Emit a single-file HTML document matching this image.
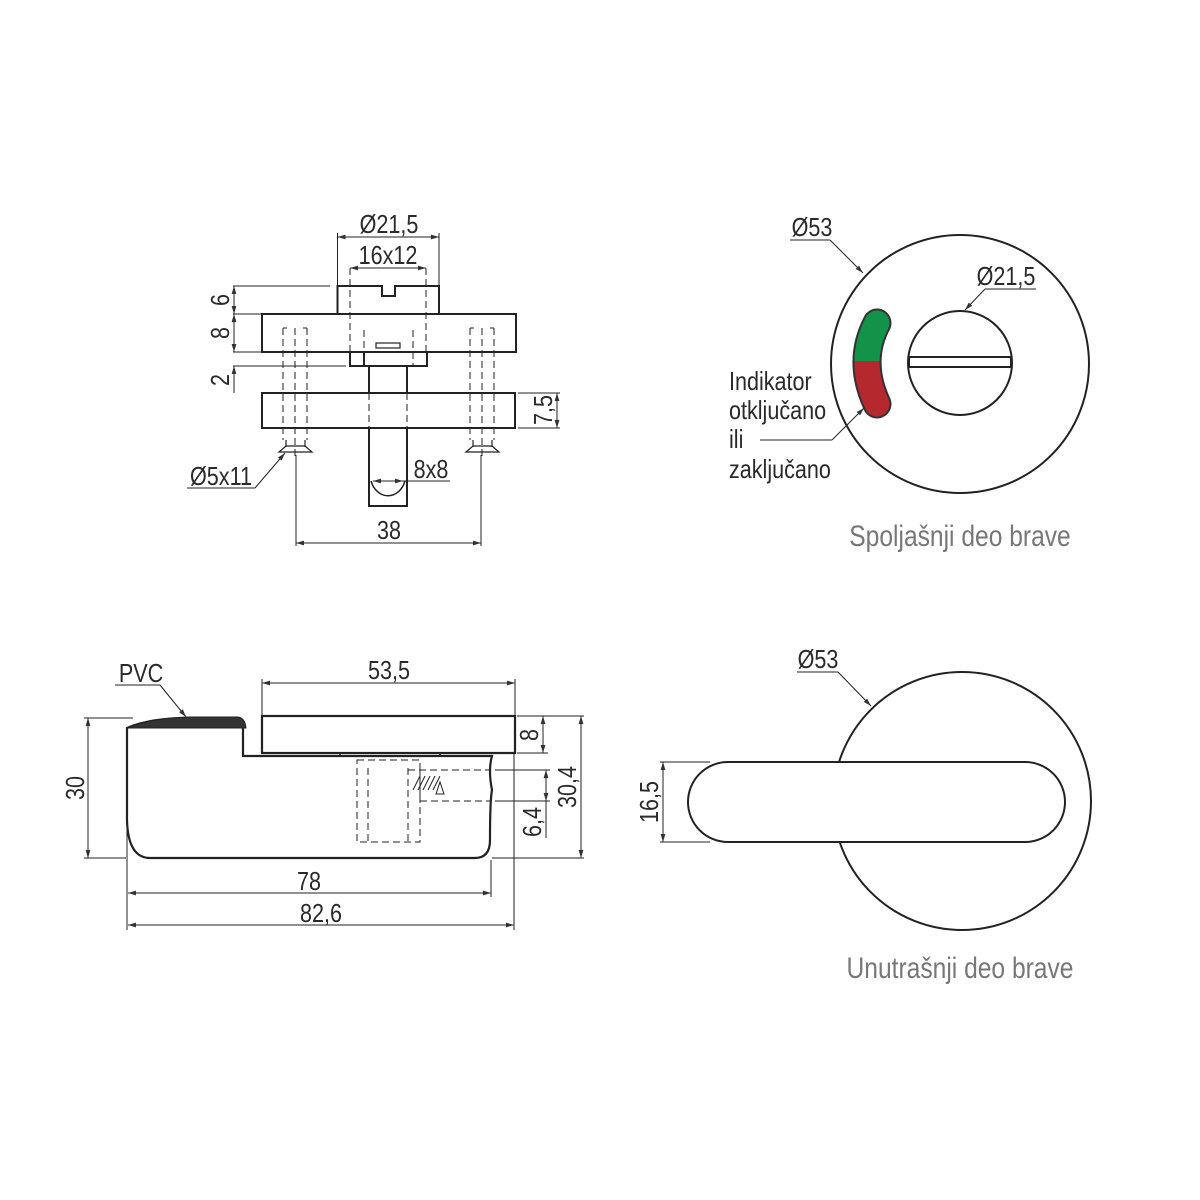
<!DOCTYPE html>
<html><head><meta charset="utf-8"><style>
html,body{margin:0;padding:0;background:#fff}
svg{display:block}
text{font-family:"Liberation Sans",sans-serif;fill:#2a2a2a}
</style></head><body>
<svg width="1200" height="1200" viewBox="0 0 1200 1200" xmlns="http://www.w3.org/2000/svg">
<defs>
<marker id="a" viewBox="0 0 10 10" refX="10" refY="5" markerWidth="10" markerHeight="8" orient="auto-start-reverse" markerUnits="userSpaceOnUse"><path d="M0,2 L10,5 L0,8z" fill="#333"/></marker>
<clipPath id="ct"><rect x="800" y="280" width="120" height="81"/></clipPath>
<clipPath id="cb"><rect x="800" y="361" width="120" height="80"/></clipPath>
</defs>
<g stroke="#222" fill="none">
<!-- TOP LEFT -->
<g stroke-width="2">
<path d="M337.5,314 V286 H382 V296 H395 V286 H439 V314"/>
<rect x="262" y="314" width="254" height="38"/>
<rect x="350" y="352" width="77" height="14"/>
<line x1="364" y1="352" x2="364" y2="366"/>
<rect x="376" y="343" width="24" height="5" stroke-width="1.2"/>
<path d="M369,366 V393 M407,366 V393"/>
<rect x="262" y="393" width="253" height="35"/>
<path d="M369,428 V506 H407 V428"/>
<path d="M371,481 A18,22 0 0 0 405,481" stroke-width="1.5"/>
</g>
<g stroke-width="1" stroke-dasharray="7,4">
<path d="M350,268 V352 M426,268 V352 M364,330 V366 M413,330 V366 M369,393 V428 M407,393 V428"/>
<path d="M283,328 V440 M295,328 V460 M307,328 V440 M470,328 V440 M482,328 V460 M494,328 V440"/>
<path d="M283,328 H287 M303,328 H307 M470,328 H474 M490,328 H494"/>
</g>
<g stroke-width="1.2">
<path d="M286,440 V447 M305,440 V447 M473,440 V447 M492,440 V447"/>
<path d="M279,452 L286,446 H305 L312,452 Z M466,452 L473,446 H492 L499,452 Z"/>
</g>
<g stroke-width="1">
<line x1="337.5" y1="237" x2="439" y2="237" marker-start="url(#a)" marker-end="url(#a)"/>
<path d="M337.5,233 V286 M439,233 V286"/>
<line x1="350" y1="268" x2="426" y2="268" marker-start="url(#a)" marker-end="url(#a)"/>
<path d="M233,286 H330 M233,314 H262 M233,352 H262 M233,366 H346"/>
<line x1="234" y1="286" x2="234" y2="314" marker-start="url(#a)" marker-end="url(#a)"/>
<line x1="234" y1="314" x2="234" y2="352" marker-start="url(#a)" marker-end="url(#a)"/>
<line x1="234" y1="393" x2="234" y2="366" marker-end="url(#a)"/>
<path d="M518,393 H560 M518,428 H560"/>
<line x1="557" y1="393" x2="557" y2="428" marker-start="url(#a)" marker-end="url(#a)"/>
<line x1="296" y1="543" x2="481" y2="543" marker-start="url(#a)" marker-end="url(#a)"/>
<path d="M296,455 V546 M481,455 V546"/>
<line x1="373" y1="481" x2="403" y2="481" marker-start="url(#a)" marker-end="url(#a)"/>
<path d="M403,481 H450"/>
<path d="M187,488 H255" /><line x1="255" y1="488" x2="285" y2="453" marker-end="url(#a)"/>
</g>
<!-- TOP RIGHT -->
<circle cx="960" cy="364" r="129" stroke-width="2"/>
<circle cx="960" cy="363" r="52" stroke-width="2"/>
<rect x="909" y="357" width="102" height="10" stroke-width="2" fill="#fff"/>
<path d="M877,323 Q857,361 877,404" stroke="#333" stroke-width="29" stroke-linecap="round"/>
<path clip-path="url(#ct)" d="M877,323 Q857,361 877,404" stroke="#13924a" stroke-width="25" stroke-linecap="round"/>
<path clip-path="url(#cb)" d="M877,323 Q857,361 877,404" stroke="#b4282e" stroke-width="25" stroke-linecap="round"/>
<g stroke-width="1">
<path d="M790,240 H830"/><line x1="830" y1="240" x2="863" y2="273" marker-end="url(#a)"/>
<path d="M1036,289 H985"/><line x1="985" y1="289" x2="965" y2="310" marker-end="url(#a)"/>
<path d="M760,440 H832"/><line x1="832" y1="440" x2="864" y2="408" marker-end="url(#a)"/>
</g>
<!-- BOTTOM LEFT -->
<path d="M243,728 Q243,718 233,718 H190 Q150,718 127,728 V820 Q128,858 150,858 H475 Q490,858 490,840 Q490,800 492,790 Q488,770 492,756 H243 Z" stroke-width="2.2"/>
<path d="M127,728 Q150,718 190,717 H238 Q245,718 246,728 H127 Z" fill="#333" stroke-width="1"/>
<rect x="262" y="716" width="253" height="37" stroke-width="2.2"/>
<path d="M340,753 V756 H440 V753" stroke-width="1.5"/>
<g stroke-width="1" stroke-dasharray="7,4">
<rect x="357" y="760" width="63" height="82"/>
<path d="M368,768 V842 M408,768 V842 M408,770 H490 M420,801 H490 M420,770 V801"/>
</g>
<path d="M413,790 L420,776 M418,790 L425,776 M423,790 L430,776 M428,790 L435,776 M433,790 L440,776 M436,794 L444,794 L440,782 Z" stroke-width="1"/>
<g stroke-width="1">
<line x1="262" y1="683" x2="515" y2="683" marker-start="url(#a)" marker-end="url(#a)"/>
<path d="M262,679 V716 M515,679 V716"/>
<path d="M84,718 H133 M84,858 H126"/>
<line x1="88" y1="718" x2="88" y2="858" marker-start="url(#a)" marker-end="url(#a)"/>
<path d="M517,716 H584 M517,753 H548 M495,770 H550 M495,801 H550 M492,858 H584"/>
<line x1="543" y1="716" x2="543" y2="753" marker-start="url(#a)" marker-end="url(#a)"/>
<line x1="581" y1="716" x2="581" y2="858" marker-start="url(#a)" marker-end="url(#a)"/>
<line x1="546" y1="770" x2="546" y2="801" marker-start="url(#a)" marker-end="url(#a)"/>
<path d="M546,801 V838"/>
<path d="M127,790 V930 M491,860 V897 M514,753 V930"/>
<line x1="128" y1="893" x2="491" y2="893" marker-start="url(#a)" marker-end="url(#a)"/>
<line x1="128" y1="925" x2="514" y2="925" marker-start="url(#a)" marker-end="url(#a)"/>
<path d="M115,685 H160"/><line x1="160" y1="685" x2="186" y2="717" marker-end="url(#a)"/>
</g>
<!-- BOTTOM RIGHT -->
<circle cx="962" cy="801" r="129" stroke-width="2"/>
<rect x="688" y="762" width="377" height="80" rx="40" fill="#fff" stroke-width="2"/>
<g stroke-width="1">
<path d="M797,672 H838"/><line x1="838" y1="672" x2="871" y2="706" marker-end="url(#a)"/>
<path d="M660,762 H710 M660,842 H710"/>
<line x1="663" y1="762" x2="663" y2="842" marker-start="url(#a)" marker-end="url(#a)"/>
</g>
</g>
<g font-size="26">
<text transform="translate(389,233) scale(.83,1)" text-anchor="middle">Ø21,5</text>
<text transform="translate(388,264) scale(.83,1)" text-anchor="middle">16x12</text>
<text transform="translate(229,300) rotate(-90) scale(.83,1)" text-anchor="middle">6</text>
<text transform="translate(229,333) rotate(-90) scale(.83,1)" text-anchor="middle">8</text>
<text transform="translate(229,380) rotate(-90) scale(.83,1)" text-anchor="middle">2</text>
<text transform="translate(552,410) rotate(-90) scale(.83,1)" text-anchor="middle">7,5</text>
<text transform="translate(431,478) scale(.83,1)" text-anchor="middle">8x8</text>
<text transform="translate(221,485) scale(.83,1)" text-anchor="middle">Ø5x11</text>
<text transform="translate(389,539) scale(.83,1)" text-anchor="middle">38</text>
<text transform="translate(812,236) scale(.83,1)" text-anchor="middle">Ø53</text>
<text transform="translate(1006,285) scale(.83,1)" text-anchor="middle">Ø21,5</text>
<text transform="translate(729,390) scale(.83,1)">Indikator</text>
<text transform="translate(729,419) scale(.83,1)">otključano</text>
<text transform="translate(729,448) scale(.83,1)">ili</text>
<text transform="translate(729,478) scale(.83,1)">zaključano</text>
<text transform="translate(141,682) scale(.83,1)" text-anchor="middle">PVC</text>
<text transform="translate(389,679) scale(.83,1)" text-anchor="middle">53,5</text>
<text transform="translate(84,788) rotate(-90) scale(.83,1)" text-anchor="middle">30</text>
<text transform="translate(538,735) rotate(-90) scale(.83,1)" text-anchor="middle">8</text>
<text transform="translate(576,787) rotate(-90) scale(.83,1)" text-anchor="middle">30,4</text>
<text transform="translate(541,822) rotate(-90) scale(.83,1)" text-anchor="middle">6,4</text>
<text transform="translate(309,890) scale(.83,1)" text-anchor="middle">78</text>
<text transform="translate(321,922) scale(.83,1)" text-anchor="middle">82,6</text>
<text transform="translate(818,668) scale(.83,1)" text-anchor="middle">Ø53</text>
<text transform="translate(658,802) rotate(-90) scale(.83,1)" text-anchor="middle">16,5</text>
</g>
<g font-size="30">
<text transform="translate(960,546) scale(.82,1)" text-anchor="middle" style="fill:#777">Spoljašnji deo brave</text>
<text transform="translate(960,978) scale(.82,1)" text-anchor="middle" style="fill:#777">Unutrašnji deo brave</text>
</g>
</svg>
</body></html>
